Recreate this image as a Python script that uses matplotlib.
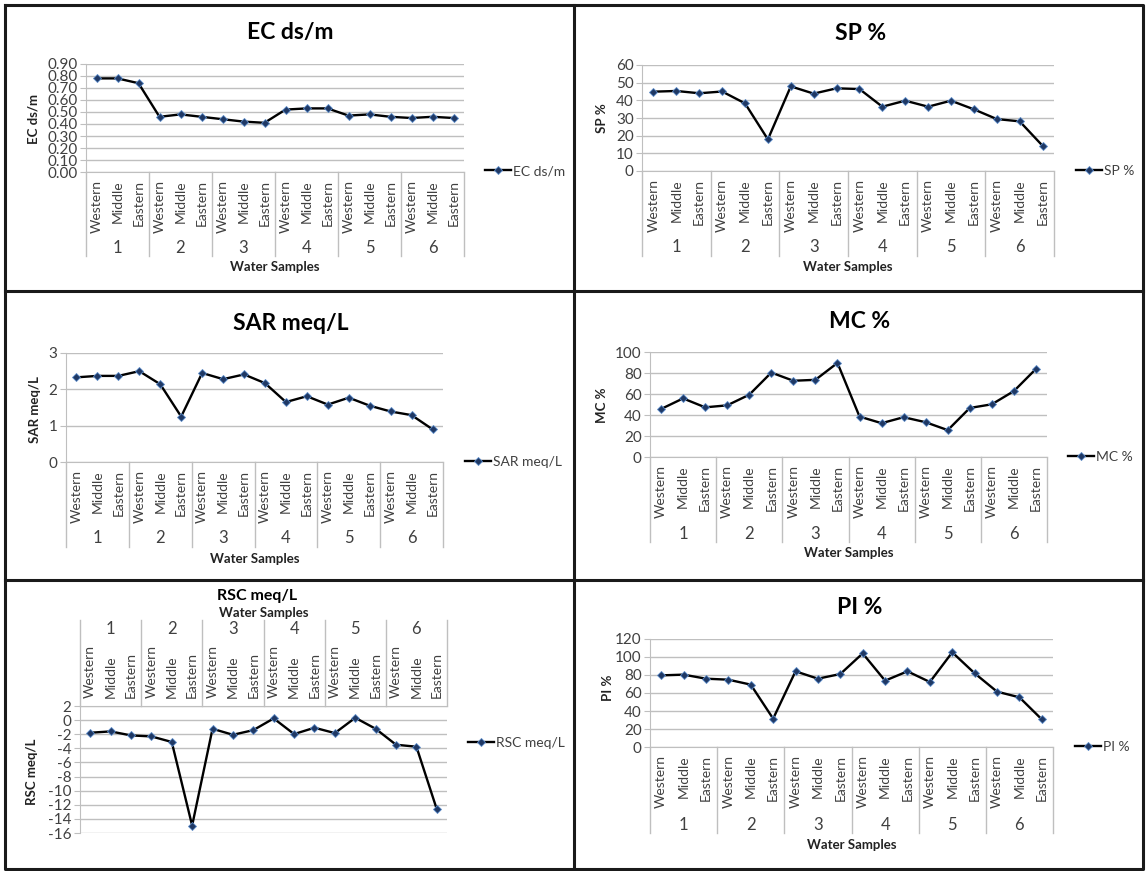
import numpy as np
import matplotlib
matplotlib.use("Agg")
import matplotlib.pyplot as plt
from matplotlib.lines import Line2D
from matplotlib.transforms import blended_transform_factory

plt.rcParams['font.family'] = ['Lato', 'DejaVu Sans']

# ===== Data =====
sub_labels = ['Western', 'Middle', 'Eastern'] * 6
group_labels = ['1', '2', '3', '4', '5', '6']

ec = [0.78, 0.78, 0.74, 0.46, 0.48, 0.46, 0.44, 0.42, 0.41,
      0.52, 0.53, 0.53, 0.47, 0.48, 0.46, 0.45, 0.46, 0.45]
sp = [44.9, 45.3, 44.0, 45.0, 38.3, 17.9, 47.9, 43.8, 46.8,
      46.4, 36.4, 39.8, 36.4, 39.8, 34.9, 29.4, 28.1, 14.3]
sar = [2.33, 2.37, 2.37, 2.50, 2.14, 1.25, 2.45, 2.28, 2.41,
       2.17, 1.65, 1.81, 1.58, 1.77, 1.55, 1.39, 1.29, 0.90]
mc = [45.7, 55.8, 47.3, 49.2, 59.3, 80.4, 72.6, 73.5, 89.6,
      38.5, 32.2, 37.9, 33.1, 25.6, 46.7, 50.2, 62.8, 83.9]
rsc = [-1.79, -1.60, -2.17, -2.31, -3.10, -14.95, -1.23, -2.08, -1.42,
       0.24, -1.98, -1.08, -1.84, 0.33, -1.23, -3.49, -3.77, -12.64]
pi = [79.6, 80.4, 75.9, 74.8, 69.3, 31.5, 84.1, 75.9, 81.1,
      104.0, 73.7, 84.1, 72.2, 105.2, 81.9, 61.5, 55.2, 30.7]

W, H = 1146, 871
GRID = '#BFBFBF'
TXT = '#404040'


def fy(py):
    return 1 - py / H


def fx(px):
    return px / W


def draw_panel(fig, name, values, yticks, fmt, plot, bracket, group_y, xlab_y,
               title_xy, title_size, ylab_xy, leg_xy, top_axis=False):
    l, t, r, b = plot
    ax = fig.add_axes([fx(l), fy(b), fx(r - l), (b - t) / H])
    x = np.arange(len(values))
    ax.plot(x, values, color='black', lw=1.7, marker='D', ms=4.0,
            mfc='#1F3864', mec='#5B8BC9', mew=0.6, label=name, zorder=3)
    ax.set_xlim(-0.5, len(values) - 0.5)
    ax.set_ylim(yticks[0], yticks[-1])
    ax.set_yticks(yticks)
    ax.set_yticklabels([fmt.format(v) for v in yticks], fontsize=11, color=TXT)
    ax.yaxis.grid(True, color=GRID, lw=1)
    ax.set_axisbelow(True)
    ax.spines['right'].set_visible(False)
    ax.spines['left'].set_color(GRID)
    ax.tick_params(axis='y', length=4, color=GRID, pad=2)

    ax.set_xticks(x)
    ax.set_xticklabels(sub_labels, rotation=90, fontsize=10, color=TXT)
    ax.tick_params(axis='x', length=0, pad=6)
    if top_axis:
        ax.xaxis.tick_top()
        ax.spines['bottom'].set_visible(False)
        ax.spines['top'].set_color(GRID)
        axis_y = fy(t)
    else:
        ax.spines['top'].set_visible(False)
        ax.spines['bottom'].set_color(GRID)
        axis_y = fy(b)

    # two-level category axis: group separators and group numbers
    tr = blended_transform_factory(ax.transData, fig.transFigure)
    for k in range(len(group_labels) + 1):
        xs = 3 * k - 0.5
        fig.add_artist(Line2D([xs, xs], [axis_y, fy(bracket)], transform=tr,
                              color=GRID, lw=1))
    for k, g in enumerate(group_labels):
        fig.text(3 * k + 1, fy(group_y), g, transform=tr, ha='center',
                 va='center', fontsize=12, color=TXT)

    fig.text(fx((l + r) / 2), fy(xlab_y), 'Water Samples', ha='center',
             va='center', fontsize=9.5, fontweight='bold', color='#222222')
    fig.text(fx(title_xy[0]), fy(title_xy[1]), name, ha='center', va='center',
             fontsize=title_size, fontweight='bold', color='black')
    fig.text(fx(ylab_xy[0]), fy(ylab_xy[1]), name, ha='center', va='center',
             rotation=90, fontsize=9.5, fontweight='bold', color='#222222')
    ax.legend(loc='center left', bbox_to_anchor=(fx(leg_xy[0]), fy(leg_xy[1])),
              bbox_transform=fig.transFigure, frameon=False, fontsize=10,
              handlelength=1.9, handletextpad=0.15, borderpad=0,
              borderaxespad=0, labelcolor=TXT)
    return ax


fig = plt.figure(figsize=(W / 100, H / 100), dpi=100)

draw_panel(fig, 'EC ds/m', ec, np.round(np.arange(0, 0.91, 0.1), 2), '{:.2f}',
           (86, 64, 464, 172), 256, 248, 267, (290, 33), 16.5, (33, 119), (485, 171))
draw_panel(fig, 'SP %', sp, np.arange(0, 61, 10), '{:.0f}',
           (642, 65, 1054, 171), 256, 247, 267, (861, 33), 16.5, (602, 118), (1076, 171))
draw_panel(fig, 'SAR meq/L', sar, np.arange(0, 4, 1), '{:.0f}',
           (66, 353, 443, 462), 547, 538, 559, (291, 323), 16.5, (35, 410), (465, 462))
draw_panel(fig, 'MC %', mc, np.arange(0, 101, 20), '{:.0f}',
           (650, 352, 1047, 457), 542, 534, 553, (860, 321), 16.5, (602, 405), (1068, 457))
draw_panel(fig, 'RSC meq/L', rsc, np.arange(-16, 3, 2), '{:.0f}',
           (80, 706, 447, 833), 620, 629, 613, (257, 596), 11.5, (32, 772), (468, 743),
           top_axis=True)
draw_panel(fig, 'PI %', pi, np.arange(0, 121, 20), '{:.0f}',
           (650, 639, 1053, 747), 833, 825, 845, (860, 607), 16.5, (608, 688), (1075, 747))

# panel borders
bk = dict(color='#1a1a1a', lw=2.2, transform=fig.transFigure)
fig.add_artist(Line2D([fx(5), fx(1143), fx(1143), fx(5), fx(5)],
                      [fy(5), fy(5), fy(869), fy(869), fy(5)], **bk))
fig.add_artist(Line2D([fx(574), fx(574)], [fy(5), fy(869)], **bk))
fig.add_artist(Line2D([fx(5), fx(1143)], [fy(291), fy(291)], **bk))
fig.add_artist(Line2D([fx(5), fx(1143)], [fy(580), fy(580)], **bk))

plt.savefig('out.png', dpi=100)
